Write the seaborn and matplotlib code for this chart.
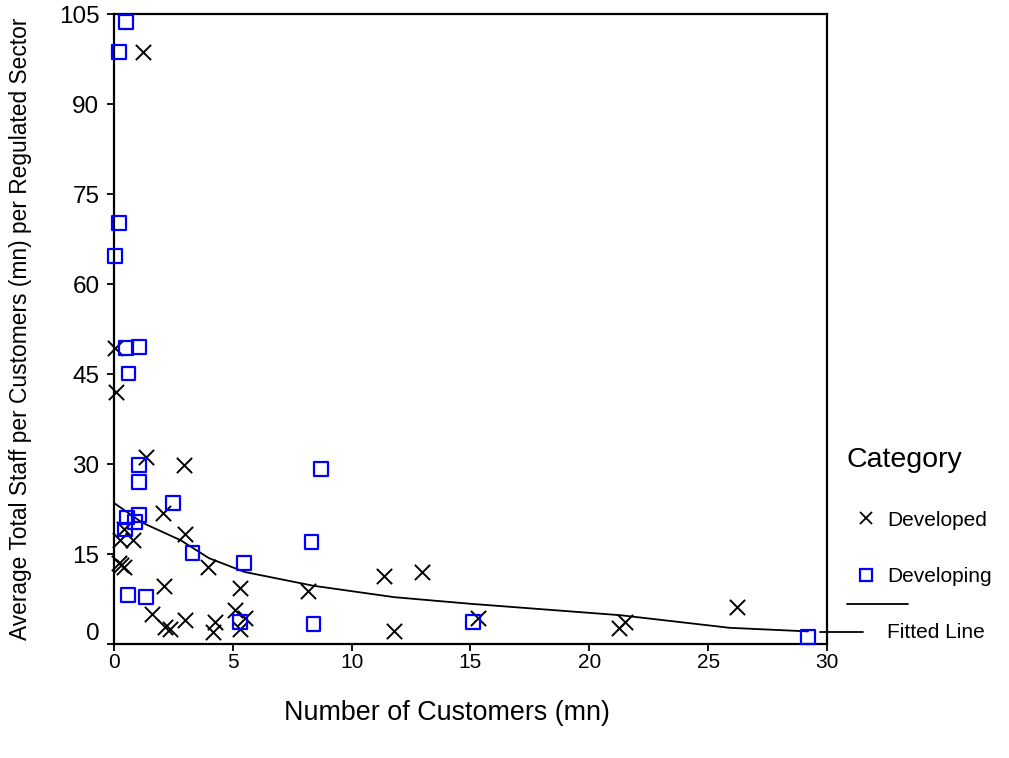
import pandas as pd
import numpy as np
import seaborn as sns
from matplotlib import pyplot as plt
from matplotlib.lines import Line2D
from matplotlib.transforms import ScaledTranslation

# Developed (x markers)
dev_x = [1.2, 0.04, 0.1, 1.34, 2.95, 2.07, 0.4, 3.0, 0.25, 0.8, 0.2, 0.3, 0.4,
         3.95, 2.1, 5.3, 8.15, 1.6, 5.08, 2.14, 2.35, 3.0, 4.24, 4.16, 5.5,
         5.3, 11.34, 12.95, 11.8, 15.3, 21.26, 21.5, 26.2]
dev_y = [98.7, 49.3, 42.0, 31.2, 29.8, 21.8, 19.2, 18.3, 17.3, 17.3, 13.5,
         13.2, 12.8, 12.8, 9.7, 9.3, 8.8, 5.0, 5.7, 2.8, 2.5, 4.0, 3.7, 2.0,
         4.3, 2.5, 11.3, 12.0, 2.2, 4.3, 2.7, 3.7, 6.2]

# Developing (open squares)
dvg_x = [0.5, 0.2, 0.2, 0.04, 0.5, 1.05, 0.6, 1.05, 1.05, 8.7, 2.48, 1.05,
         0.55, 0.88, 0.46, 3.3, 8.3, 5.47, 0.58, 1.34, 5.3, 8.4, 15.1, 29.2]
dvg_y = [103.7, 98.7, 70.2, 64.7, 49.3, 49.5, 45.1, 29.8, 27.0, 29.2, 23.5,
         21.5, 21.1, 20.3, 19.1, 15.2, 17.0, 13.5, 8.2, 7.8, 3.7, 3.3, 3.7, 1.2]

# fitted line vertices
fit_x = [0.0, 1.2, 2.8, 4.0, 5.5, 8.4, 11.8, 15.0, 21.3, 25.9, 29.2]
fit_y = [23.5, 20.2, 17.3, 14.3, 12.0, 9.7, 7.8, 6.7, 4.8, 2.7, 2.1]

x_ticks = [0, 5, 10, 15, 20, 25, 30]
y_ticks = [0, 15, 30, 45, 60, 75, 90, 105]

sns.set_theme(style="ticks")
plt.rcParams['font.family'] = ['Liberation Sans', 'DejaVu Sans']

fig = plt.figure(figsize=[10.09, 7.58], dpi=100)
ax = fig.add_axes([0.113, 0.1504, 0.7066, 0.8311])

dev = pd.DataFrame({'x': dev_x, 'y': dev_y})
dvg = pd.DataFrame({'x': dvg_x, 'y': dvg_y})
fit = pd.DataFrame({'x': fit_x, 'y': fit_y})

sns.lineplot(data=fit, x='x', y='y', color='black', linewidth=1.3, ax=ax,
             sort=False)
sns.scatterplot(data=dev, x='x', y='y', marker='x', s=120, color='black',
                linewidth=1.4, ax=ax, clip_on=False, zorder=3)
sns.scatterplot(data=dvg, x='x', y='y', marker='s', s=95,
                facecolors='none', edgecolor='#0000ff', linewidth=1.6,
                ax=ax, clip_on=False, zorder=3)
ax.collections[-1].set_facecolor('none')

ax.set_xlim(0, 30)
ax.set_ylim(0, 105)
ax.set_xticks(x_ticks)
ax.set_yticks(y_ticks)
ax.tick_params(direction='out', length=5, width=1.3,
               color='black', labelcolor='black')
ax.tick_params(axis='x', labelsize=15, pad=1.5)
ax.tick_params(axis='y', labelsize=17.5, pad=5.5)
for s in ax.spines.values():
    s.set_visible(True)
    s.set_linewidth(1.6)
    s.set_color('black')

# the "0" y label sits a bit higher in the original
lbl0 = ax.get_yticklabels()[0]
lbl0.set_transform(lbl0.get_transform() + ScaledTranslation(0, 12 / 100, fig.dpi_scale_trans))

ax.set_xlabel('Number of Customers (mn)', fontsize=19.4, color='black')
ax.xaxis.set_label_coords(0.467, -0.089)
ax.set_ylabel('Average Total Staff per Customers (mn) per Regulated Sector',
              fontsize=16.4, labelpad=19, color='black')

handles = [
    Line2D([], [], marker='x', color='black', linestyle='none',
           markersize=8, markeredgewidth=1.3),
    Line2D([], [], marker='s', color='#0000ff', markerfacecolor='none',
           linestyle='none', markersize=8, markeredgewidth=1.6),
    Line2D([], [], linestyle='none'),
]
leg = fig.legend(handles=handles,
                 labels=['Developed', 'Developing', 'Fitted Line'],
                 title='Category', loc='upper left',
                 bbox_to_anchor=(0.8285, 0.4235), frameon=False,
                 fontsize=15, title_fontsize=20.5, labelspacing=1.79,
                 handlelength=1.9, handletextpad=0.05, borderpad=0,
                 labelcolor='black')
leg.get_title().set_color('black')
leg._legend_box.align = 'left'

# line pieces next to "Fitted Line"
fig.add_artist(Line2D([820 / 1009, 863 / 1009], [1 - 632 / 758, 1 - 632 / 758],
                      color='black', linewidth=1.3))
fig.add_artist(Line2D([847 / 1009, 908 / 1009], [1 - 604 / 758, 1 - 604 / 758],
                      color='black', linewidth=1.3))

plt.savefig('out.png', dpi=100)
